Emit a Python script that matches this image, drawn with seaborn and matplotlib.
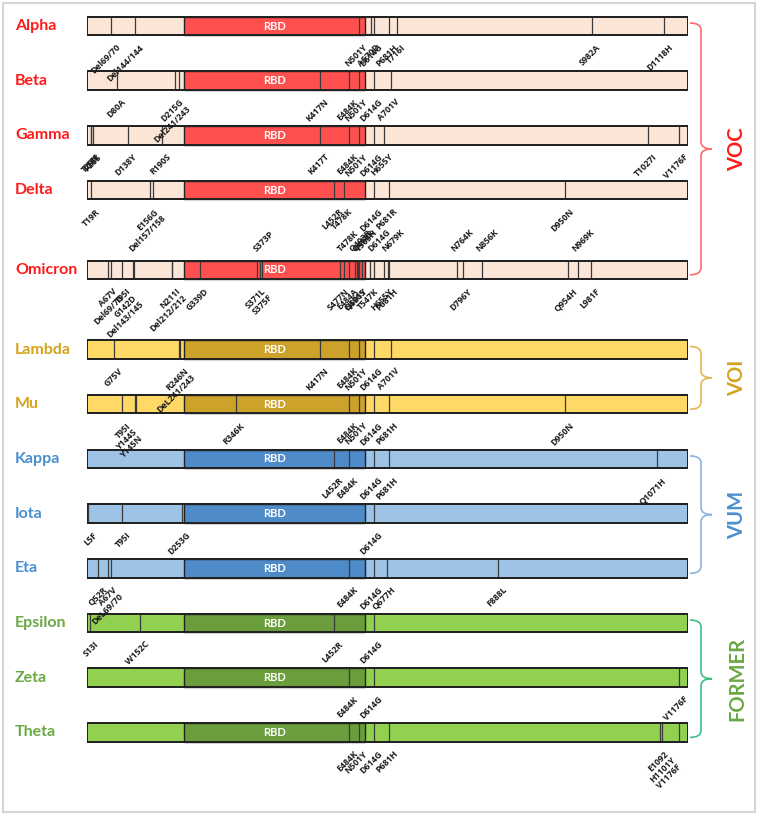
import re
import numpy as np
import pandas as pd
import seaborn as sns
import matplotlib.pyplot as plt
from matplotlib.path import Path
from matplotlib.patches import PathPatch, Rectangle

# ---- data -------------------------------------------------------------
variants = ["Alpha", "Beta", "Gamma", "Delta", "Omicron", "Lambda", "Mu",
            "Kappa", "Iota", "Eta", "Epsilon", "Zeta", "Theta"]
groups = ["VOC"] * 5 + ["VOI"] * 2 + ["VUM"] * 3 + ["FORMER"] * 3
spike_len = 1273
rbd_start, rbd_end = 319, 541

# mutation labels written under each bar (stacked names share one label)
alpha_mut = ["Del69/70", "Del144/144", "N501Y", "A570D", "D614G", "P681H",
             "T716I", "S982A", "D1118H"]
beta_mut = ["D80A", "D215G\nDel241/243", "K417N", "E484K", "N501Y", "D614G",
            "A701V"]
gamma_mut = ["L18F", "T20N", "P26S", "D138Y", "R190S", "K417T", "E484K",
             "N501Y", "D614G", "H655Y", "T1027I", "V1176F"]
delta_mut = ["T19R", "E156G\nDel157/158", "L452R", "T478K", "D614G", "P681R",
             "D950N"]
omicron_mut = ["A67V\nDel69/70", "T95I\nG142D\nDel143/145", "N211I\nDel212/212",
               "G339D", "S371L\nS375F", "S477N", "E484A", "Q496S", "N501Y",
               "T547K", "H655Y", "P681H", "D796Y", "Q954H", "L981F"]
omicron_top = ["S373P", "T478K", "Q493R", "Q498R", "Y505H", "D614G", "N679K",
               "N764K", "N856K", "N969K"]
lambda_mut = ["G75V", "R246N\nDeL241/243", "K417N", "E484K", "N501Y", "D614G",
              "A701V"]
mu_mut = ["T95I\nY144S\nY145N", "R346K", "E484K", "N501Y", "D614G", "P681H",
          "D950N"]
kappa_mut = ["L452R", "E484K", "D614G", "P681H", "Q1071H"]
iota_mut = ["L5F", "T95I", "D253G", "D614G"]
eta_mut = ["Q52R", "A67V\nDeL69/70", "E484K", "D614G", "Q677H", "F888L"]
epsilon_mut = ["S13I", "W152C", "L452R", "D614G"]
zeta_mut = ["E484K", "D614G", "V1176F"]
theta_mut = ["E484K", "N501Y", "D614G", "P681H", "E1092\nH1101Y\nV1176F"]

below = dict(zip(variants, [alpha_mut, beta_mut, gamma_mut, delta_mut,
                            omicron_mut, lambda_mut, mu_mut, kappa_mut,
                            iota_mut, eta_mut, epsilon_mut, zeta_mut,
                            theta_mut]))
above = {"Omicron": omicron_top}

# ---- styling ----------------------------------------------------------
name_col = {"VOC": "#FF1A1A", "VOI": "#D4A21C", "VUM": "#4A8FD0", "FORMER": "#6AA844"}
light_col = {"VOC": "#FBE5D6", "VOI": "#FFD966", "VUM": "#9DC3E6", "FORMER": "#92D050"}
dark_col = {"VOC": "#FF5050", "VOI": "#CCA22B", "VUM": "#4F8BC9", "FORMER": "#6A9E3C"}
brace_col = {"VOC": "#FF6B6B", "VOI": "#E2B74F", "VUM": "#8CB4E2", "FORMER": "#3DBE83"}

# schematic (non-linear) axis: residue number -> drawn position
AA = [0, 5, 13, 20, 26, 52, 67, 70, 75, 80, 95, 138, 144, 152, 158, 190, 212,
      215, 246, 253, 319, 339, 346, 371, 375, 417, 452, 477, 478, 484, 493,
      496, 498, 501, 505, 541, 547, 570, 614, 655, 677, 681, 701, 716, 764,
      796, 856, 888, 950, 954, 969, 982, 1027, 1071, 1092, 1101, 1118, 1176,
      1273]
PX = [87, 88, 90, 91, 93, 98, 108, 113, 114, 117, 122, 128, 135, 140, 155,
      162, 172, 175, 180, 182, 184, 200, 236, 257, 262, 320, 334, 340, 344,
      349, 355, 357, 358, 359, 362, 365, 370, 371, 374, 384, 387, 389, 391,
      397, 457, 463, 482, 498, 565, 568, 578, 592, 648, 657, 660, 662, 664,
      679, 688]


def fwd(a):
    a = np.asarray(a, dtype=float)
    out = np.interp(a, AA, PX)
    out = np.where(a < AA[0], PX[0] + (a - AA[0]) * 0.3, out)
    out = np.where(a > AA[-1], PX[-1] + (a - AA[-1]) * 0.1, out)
    return out


def inv(p):
    p = np.asarray(p, dtype=float)
    out = np.interp(p, PX, AA)
    out = np.where(p < PX[0], AA[0] + (p - PX[0]) / 0.3, out)
    out = np.where(p > PX[-1], AA[-1] + (p - PX[-1]) / 0.1, out)
    return out


def first_num(s):
    return int(re.findall(r"\d+", s)[0])


# row layout: uniform spacing, extra room around a row carrying top labels
has_top = [v in above for v in variants]
row_y, y = [], 26.0
for i in range(len(variants)):
    if i > 0:
        y += 54.7 + 25 * has_top[i] + 25 * has_top[i - 1]
    row_y.append(y)
bar_h = 18.5

sns.set_theme(style="white")
plt.rcParams["font.family"] = ["Lato", "DejaVu Sans"]

W, H = 765, 818
fig = plt.figure(figsize=(W / 100, H / 100), dpi=100)
fig.patch.set_facecolor("white")

deco = fig.add_axes([0, 0, 1, 1], zorder=0)
deco.set_xlim(0, W)
deco.set_ylim(H, 0)
deco.axis("off")

x0 = PX[0] / W
x1 = PX[-1] / W
ax = fig.add_axes([x0, 0, x1 - x0, 1], zorder=1)
ax.patch.set_alpha(0)

df = pd.DataFrame({"variant": variants, "length": spike_len, "row": row_y,
                   "group": groups})
pal = {v: light_col[g] for v, g in zip(variants, groups)}
min_gap = np.diff(sorted(row_y)).min()
sns.barplot(data=df, x="length", y="row", hue="variant", palette=pal,
            orient="h", native_scale=True, dodge=False, errorbar=None,
            saturation=1, width=bar_h / min_gap, edgecolor="#222222",
            linewidth=1.4, legend=False, ax=ax)

ax.set_xscale("function", functions=(fwd, inv))
ax.set_xlim(0, spike_len)
ax.set_ylim(H, 0)
ax.axis("off")

# RBD boxes
ax.barh(row_y, rbd_end - rbd_start, left=rbd_start, height=bar_h,
        color=[dark_col[g] for g in groups], edgecolor="#222222",
        linewidth=1.0, zorder=3)
rbd_mid = float(inv((fwd(rbd_start) + fwd(rbd_end)) / 2))
for yy in row_y:
    ax.text(rbd_mid, yy, "RBD", color="white", ha="center", va="center",
            fontsize=8, fontweight="bold", zorder=6)

lab_kw = dict(rotation=45, rotation_mode="anchor", fontsize=6.3,
              fontweight="bold", family=["Open Sans", "DejaVu Sans"],
              color="#1a1a1a", linespacing=1.0,
              textcoords="offset points", zorder=7, annotation_clip=False)

for v, yy in zip(variants, row_y):
    marks = below[v] + above.get(v, [])
    pos = sorted({first_num(line) for lab in marks for line in lab.split("\n")})
    ax.vlines(pos, yy - bar_h / 2, yy + bar_h / 2, color="#3a3a3a",
              linewidth=0.9, zorder=4)
    for lab in below[v]:
        ax.annotate(lab, xy=(first_num(lab), yy + bar_h / 2), xytext=(3, -5.5),
                    ha="right", va="top", **lab_kw)
    for lab in above.get(v, []):
        ax.annotate(lab, xy=(first_num(lab), yy - bar_h / 2), xytext=(-1, 5),
                    ha="left", va="bottom", **lab_kw)

# outline on top
ax.barh(row_y, spike_len, left=0, height=bar_h, fill=False,
        edgecolor="#222222", linewidth=1.4, zorder=5)

# frame, variant names, brackets
deco.add_patch(Rectangle((3, 3), 752, 809, fill=False, edgecolor="#D6D6D6",
                         linewidth=1.5))
for v, g, yy in zip(variants, groups, row_y):
    deco.text(15, yy, v, color=name_col[g], fontsize=11.5, fontweight="bold",
              ha="left", va="center")


def brace(ya, yb, color):
    xa, xv, xt, r = PX[-1] + 2, 701, 712, 7
    ym = (ya + yb) / 2
    verts = [(xa, ya), (xv, ya), (xv, ya + r), (xv, ym - r), (xv, ym), (xt, ym),
             (xv, ym), (xv, ym + r), (xv, yb - r), (xv, yb), (xa, yb)]
    codes = [Path.MOVETO, Path.CURVE3, Path.CURVE3, Path.LINETO, Path.CURVE3,
             Path.CURVE3, Path.CURVE3, Path.CURVE3, Path.LINETO, Path.CURVE3,
             Path.CURVE3]
    deco.add_patch(PathPatch(Path(verts, codes), fill=False, edgecolor=color,
                             linewidth=1.2))
    return ym


for g in ["VOC", "VOI", "VUM", "FORMER"]:
    ys = [yy for gg, yy in zip(groups, row_y) if gg == g]
    ym = brace(ys[0] - 3, ys[-1] + 5, brace_col[g])
    deco.text(737, ym, g, rotation=90, color=name_col[g], fontsize=14.5,
              fontweight="bold", ha="center", va="center")

fig.savefig("out.png", dpi=100)
